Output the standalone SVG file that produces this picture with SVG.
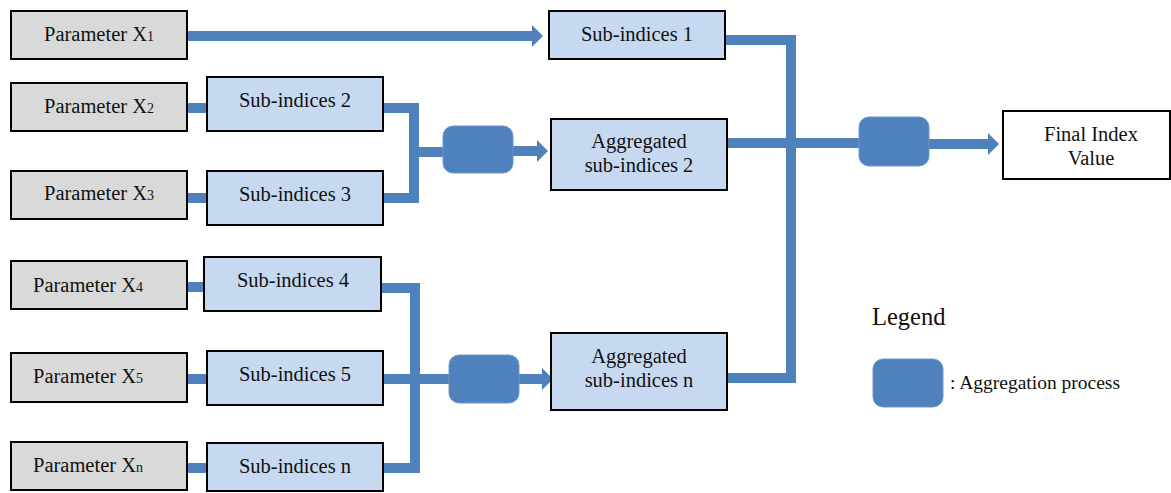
<svg xmlns="http://www.w3.org/2000/svg" width="1171" height="493" viewBox="0 0 1171 493">
<style>
.param{fill:#d9d9d9;stroke:#000;stroke-width:2}
.sub{fill:#c6d9f1;stroke:#000;stroke-width:2}
.final{fill:#fff;stroke:#000;stroke-width:2}
.agg{fill:#4f81bd;stroke:#7096cc;stroke-width:1}
.t{font-family:"Liberation Serif","Times New Roman",serif;font-size:20.5px;fill:#111;text-anchor:middle}
.s{font-size:14px}
.c{fill:none;stroke:#4f81bd;stroke-width:10;stroke-linejoin:miter;stroke-linecap:butt}
</style>
<defs>
<marker id="ah" markerUnits="userSpaceOnUse" markerWidth="12" markerHeight="23" refX="0" refY="11" orient="auto">
<path d="M0,0 L11,11 L0,22 Z" fill="#4f81bd"/>
</marker>
</defs>
<rect width="1171" height="493" fill="#fff"/>
<g id="connectors">
<path class="c" d="M187,36 H532" marker-end="url(#ah)"/>
<path class="c" d="M187,108 H207"/>
<path class="c" d="M187,198 H207"/>
<path class="c" d="M383,108 H414 V198 H383"/>
<path class="c" d="M414,152 H443"/>
<path class="c" d="M513,151 H537" marker-end="url(#ah)"/>
<path class="c" d="M725,40 H791 V378 H727"/>
<path class="c" d="M727,143 H859"/>
<path class="c" d="M929,144 H988" marker-end="url(#ah)"/>
<path class="c" d="M187,287 H204"/>
<path class="c" d="M187,379 H207"/>
<path class="c" d="M187,468 H207"/>
<path class="c" d="M381,288 H415 V468 H383"/>
<path class="c" d="M383,379 H449"/>
<path class="c" d="M519,379 H542" marker-end="url(#ah)"/>
</g>
<g id="param1"><rect class="param" x="11" y="11" width="176" height="48"/><text class="t" x="99" y="41">Parameter X<tspan class="s">1</tspan></text></g>
<g id="param2"><rect class="param" x="11" y="83" width="176" height="48"/><text class="t" x="99" y="113">Parameter X<tspan class="s">2</tspan></text></g>
<g id="param3"><rect class="param" x="11" y="171" width="176" height="48"/><text class="t" x="99" y="200">Parameter X<tspan class="s">3</tspan></text></g>
<g id="param4"><rect class="param" x="11" y="261" width="176" height="48"/><text class="t" x="88" y="292">Parameter X<tspan class="s">4</tspan></text></g>
<g id="param5"><rect class="param" x="11" y="353" width="176" height="49"/><text class="t" x="88" y="383">Parameter X<tspan class="s">5</tspan></text></g>
<g id="paramn"><rect class="param" x="11" y="442" width="176" height="48"/><text class="t" x="88" y="472">Parameter X<tspan class="s">n</tspan></text></g>
<g id="sub1"><rect class="sub" x="549" y="11" width="176" height="48"/><text class="t" x="637" y="41">Sub-indices 1</text></g>
<g id="sub2"><rect class="sub" x="207" y="77" width="176" height="54"/><text class="t" x="295" y="107">Sub-indices 2</text></g>
<g id="sub3"><rect class="sub" x="207" y="171" width="176" height="54"/><text class="t" x="295" y="201">Sub-indices 3</text></g>
<g id="sub4"><rect class="sub" x="204" y="257" width="177" height="54"/><text class="t" x="293" y="287">Sub-indices 4</text></g>
<g id="sub5"><rect class="sub" x="207" y="351" width="176" height="54"/><text class="t" x="295" y="381">Sub-indices 5</text></g>
<g id="subn"><rect class="sub" x="207" y="443" width="176" height="48"/><text class="t" x="295" y="473">Sub-indices n</text></g>
<g id="agg2-process"><rect class="agg" x="443" y="126" width="70" height="47" rx="10"/></g>
<g id="aggn-process"><rect class="agg" x="449" y="355" width="70" height="48" rx="10"/></g>
<g id="final-process"><rect class="agg" x="859" y="117" width="70" height="49" rx="10"/></g>
<g id="agg2"><rect class="sub" x="551" y="119" width="176" height="71"/><text class="t" x="639" y="148">Aggregated</text><text class="t" x="639" y="172">sub-indices 2</text></g>
<g id="aggn"><rect class="sub" x="551" y="333" width="176" height="77"/><text class="t" x="639" y="363">Aggregated</text><text class="t" x="639" y="387">sub-indices n</text></g>
<g id="final"><rect class="final" x="1003" y="111" width="167" height="68"/><text class="t" x="1091" y="141">Final Index</text><text class="t" x="1091" y="165">Value</text></g>
<g id="legend">
<text x="872" y="325" style="font-family:'Liberation Serif','Times New Roman',serif;font-size:24.5px;fill:#111">Legend</text>
<rect class="agg" x="873" y="359" width="70" height="48" rx="10"/>
<text x="950" y="389" style="font-family:'Liberation Serif','Times New Roman',serif;font-size:19.5px;fill:#111">: Aggregation process</text>
</g>
</svg>
